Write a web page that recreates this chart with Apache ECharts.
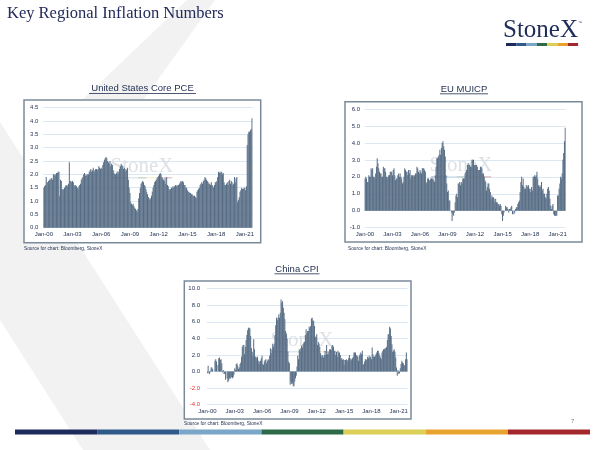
<!DOCTYPE html>
<html>
<head>
<meta charset="utf-8">
<script src="https://cdn.jsdelivr.net/npm/echarts@6/dist/echarts.min.js"></script>
<style>
html, body { margin: 0; padding: 0; background: #fff; }
#main { width: 600px; height: 450px; }
</style>
</head>
<body>
<div id="main"></div>
<script>
// monthly y/y %, every series starts Jan-00
var usCorePce = [
    1.5, 1.55, 1.6, 1.9, 1.7, 1.7, 1.75, 1.8, 1.8, 1.85, 1.85, 1.8,
    2.0, 2.0, 1.95, 2.0, 2.05, 2.05, 2.1, 2.1, 1.2, 1.8, 1.75, 1.45,
    1.4, 1.45, 1.5, 1.55, 1.6, 1.6, 1.55, 1.65, 2.45, 1.75, 1.75, 1.7,
    1.75, 1.7, 1.6, 1.55, 1.6, 1.55, 1.5, 1.45, 1.55, 1.6, 1.65, 1.8,
    1.85, 1.9, 2.0, 2.05, 1.95, 2.0, 1.95, 2.0, 2.0, 2.1, 2.15, 2.2,
    2.1, 2.15, 2.25, 2.1, 2.15, 2.2, 2.2, 2.15, 2.2, 2.3, 2.25, 2.2,
    2.25, 2.2, 2.35, 2.45, 2.55, 2.6, 2.65, 2.6, 2.5, 2.45, 2.4, 2.5,
    2.3, 2.4, 2.35, 2.15, 2.05, 2.0, 2.0, 2.05, 2.1, 2.0, 2.1, 2.2,
    2.3, 2.4, 2.35, 2.3, 2.2, 2.25, 2.1, 2.2, 2.15, 2.25, 1.8, 1.5,
    1.3, 0.95, 0.9, 0.85, 0.9, 0.8, 0.75, 0.7, 0.65, 0.6, 0.7, 1.1,
    1.3, 1.5, 1.65, 1.7, 1.75, 1.7, 1.6, 1.55, 1.45, 1.35, 1.25, 1.15,
    1.1, 1.05, 1.1, 1.2, 1.35, 1.5, 1.6, 1.7, 1.75, 1.8, 1.85, 1.9,
    1.95, 2.0, 2.05, 2.0, 1.9, 1.85, 1.8, 1.75, 1.85, 1.65, 1.9, 1.6,
    1.55, 1.45, 1.4, 1.45, 1.5, 1.5, 1.55, 1.5, 1.55, 1.6, 1.55, 1.6,
    1.55, 1.6, 1.65, 1.7, 1.75, 1.7, 1.75, 1.7, 1.6, 1.6, 1.5, 1.5,
    1.4, 1.35, 1.35, 1.3, 1.3, 1.25, 1.25, 1.2, 1.2, 1.2, 1.15, 1.1,
    1.35, 1.4, 1.45, 1.5, 1.6, 1.65, 1.7, 1.65, 1.75, 1.8, 1.9, 1.85,
    1.8, 1.75, 1.7, 1.65, 1.65, 1.6, 1.7, 1.6, 1.55, 1.5, 1.6, 1.7,
    1.7, 1.75, 1.9, 2.1, 2.05, 2.1, 2.05, 2.1, 2.0, 2.05, 1.7, 1.6,
    1.6, 1.65, 1.7, 1.6, 1.75, 1.8, 1.65, 1.75, 1.7, 1.6, 1.65, 1.9,
    1.7, 1.85, 1.9, 0.95, 1.05, 1.15, 1.35, 1.4, 1.5, 1.45, 1.45, 1.5,
    1.5, 1.4, 1.55, 3.1, 3.5, 3.6, 3.6, 3.65, 3.7, 4.1
];
var euMuicp = [
    1.9, 2.0, 1.9, 1.7, 1.7, 2.1, 2.0, 2.0, 2.5, 2.4, 2.5, 2.0,
    2.0, 1.9, 2.2, 2.6, 3.1, 2.8, 2.5, 2.3, 2.2, 2.2, 2.0, 2.0,
    2.6, 2.5, 2.5, 2.3, 2.0, 1.9, 2.0, 2.1, 2.1, 2.3, 2.3, 2.3,
    2.1, 2.4, 2.5, 2.1, 1.8, 1.9, 1.9, 2.1, 2.2, 2.0, 2.2, 2.0,
    1.9, 1.6, 1.7, 2.0, 2.5, 2.4, 2.3, 2.3, 2.1, 2.4, 2.2, 2.4,
    1.9, 2.1, 2.1, 2.1, 2.0, 2.1, 2.2, 2.2, 2.6, 2.5, 2.3, 2.2,
    2.4, 2.3, 2.2, 2.5, 2.5, 2.5, 2.4, 2.3, 1.7, 1.6, 1.9, 1.9,
    1.8, 1.8, 1.9, 1.9, 1.9, 1.9, 1.8, 1.7, 2.1, 2.6, 3.1, 3.1,
    3.2, 3.3, 3.6, 3.3, 3.7, 4.0, 4.1, 3.8, 3.6, 3.2, 2.1, 1.6,
    1.1, 1.2, 0.6, 0.6, 0.0, -0.1, -0.6, -0.2, -0.3, -0.1, 0.5, 0.9,
    1.0, 0.8, 1.6, 1.6, 1.7, 1.5, 1.7, 1.6, 1.9, 1.9, 1.9, 2.2,
    2.3, 2.4, 2.7, 2.8, 2.7, 2.7, 2.6, 2.6, 3.0, 3.0, 3.0, 2.7,
    2.7, 2.7, 2.7, 2.6, 2.4, 2.4, 2.4, 2.6, 2.6, 2.5, 2.2, 2.2,
    2.0, 1.8, 1.7, 1.2, 1.4, 1.6, 1.6, 1.3, 1.1, 0.7, 0.9, 0.8,
    0.8, 0.7, 0.5, 0.7, 0.5, 0.5, 0.4, 0.4, 0.3, 0.4, 0.3, -0.2,
    -0.6, -0.3, -0.1, 0.0, 0.3, 0.2, 0.2, 0.1, -0.1, 0.1, 0.1, 0.2,
    0.3, -0.2, 0.0, -0.2, -0.1, 0.1, 0.2, 0.2, 0.4, 0.5, 0.6, 1.1,
    1.7, 2.0, 1.5, 1.9, 1.4, 1.3, 1.3, 1.5, 1.5, 1.4, 1.5, 1.3,
    1.3, 1.1, 1.4, 1.2, 2.0, 2.0, 2.1, 2.0, 2.1, 2.3, 1.9, 1.5,
    1.4, 1.5, 1.4, 1.7, 1.2, 1.3, 1.0, 1.0, 0.8, 0.7, 1.0, 1.3,
    1.4, 1.2, 0.7, 0.3, 0.1, 0.3, 0.4, -0.2, -0.3, -0.3, -0.3, -0.3,
    0.9, 0.9, 1.3, 1.6, 2.0, 1.9, 2.2, 3.0, 3.4, 4.1, 4.9
];
var chinaCpi = [
    -0.2, 0.7, -0.2, -0.3, 0.1, 0.5, 0.5, 0.3, 0.0, 0.0, 1.3, 1.5,
    1.2, 0.0, 0.8, 1.6, 1.7, 1.4, 1.5, 1.0, -0.1, 0.2, -0.3, -0.3,
    -1.0, 0.0, -0.8, -1.3, -1.1, -0.8, -0.9, -0.7, -0.7, -0.8, -0.7, -0.4,
    0.4, 0.2, 0.9, 1.0, 0.7, 0.3, 0.5, 0.9, 1.1, 1.8, 3.0, 3.2,
    3.2, 2.1, 3.0, 3.8, 4.4, 5.0, 5.3, 5.3, 5.2, 4.3, 2.8, 2.4,
    1.9, 3.9, 2.7, 1.8, 1.8, 1.6, 1.8, 1.3, 0.9, 1.2, 1.3, 1.6,
    1.9, 0.9, 0.8, 1.2, 1.4, 1.5, 1.0, 1.3, 1.5, 1.4, 1.9, 2.8,
    2.2, 2.7, 3.3, 3.0, 3.4, 4.4, 5.6, 6.5, 6.2, 6.5, 6.9, 6.5,
    7.1, 8.7, 8.3, 8.5, 7.7, 7.1, 6.3, 4.9, 4.6, 4.0, 2.4, 1.2,
    1.0, -1.6, -1.2, -1.5, -1.4, -1.7, -1.8, -1.2, -0.8, -0.5, 0.6, 1.9,
    1.5, 2.7, 2.4, 2.8, 3.1, 2.9, 3.3, 3.5, 3.6, 4.4, 5.1, 4.6,
    4.9, 4.9, 5.4, 5.3, 5.5, 6.4, 6.5, 6.2, 6.1, 5.5, 4.2, 4.1,
    4.5, 3.2, 3.6, 3.4, 3.0, 2.2, 1.8, 2.0, 1.9, 1.7, 2.0, 2.5,
    2.0, 3.2, 2.1, 2.4, 2.1, 2.7, 2.7, 2.6, 3.1, 3.2, 3.0, 2.5,
    2.5, 2.0, 2.4, 1.8, 2.5, 2.3, 2.3, 2.0, 1.6, 1.6, 1.4, 1.5,
    0.8, 1.4, 1.4, 1.5, 1.2, 1.4, 1.6, 2.0, 1.6, 1.3, 1.5, 1.6,
    1.8, 2.3, 2.3, 2.3, 2.0, 1.9, 1.8, 1.3, 1.9, 2.1, 2.3, 2.1,
    2.5, 0.8, 0.9, 1.2, 1.5, 1.5, 1.4, 1.8, 1.6, 1.9, 1.7, 1.8,
    1.5, 2.9, 2.1, 1.8, 1.8, 1.9, 2.1, 2.3, 2.5, 2.5, 2.2, 1.9,
    1.7, 1.5, 2.3, 2.5, 2.7, 2.7, 2.8, 2.8, 3.0, 3.8, 4.5, 4.5,
    5.4, 5.2, 4.3, 3.3, 2.4, 2.5, 2.7, 2.4, 1.7, 0.5, -0.5, 0.2,
    -0.3, -0.2, 0.4, 0.9, 1.3, 1.1, 1.0, 0.8, 0.7, 1.5, 2.3, 1.5
];
var monthNames = ['Jan', 'Feb', 'Mar', 'Apr', 'May', 'Jun', 'Jul', 'Aug', 'Sep', 'Oct', 'Nov', 'Dec'];
var startYear = 2000;
var titles = ['United States Core PCE', 'EU MUICP', 'China CPI'];
var sourceNote = 'Source for chart: Bloomberg, StoneX';
var brandColors = ['#1d2a5c', '#305a8a', '#7aa6c8', '#2d6a48', '#dccf58', '#e8a22f', '#a3282e'];

var navy = '#1f2d4f';
var barColor = '#566c84';

function monthLabels(n) {
    var out = [];
    for (var i = 0; i < n; i++) {
        var yr = startYear + Math.floor(i / 12);
        out.push(monthNames[i % 12] + '-' + String(yr).slice(2));
    }
    return out;
}

// one panel = grid + x/y axis + bars (only the China panel shows negatives in red)
var panels = [
    {data: usCorePce, grid: {left: 43.4, top: 107.7, width: 209, height: 120}, min: 0, max: 4.5, step: 0.5, margin: 5, redNeg: false},
    {data: euMuicp, grid: {left: 364.6, top: 109, width: 201, height: 118.7}, min: -1, max: 6, step: 1, margin: 4.5, redNeg: false},
    {data: chinaCpi, grid: {left: 207, top: 288.7, width: 200.5, height: 116}, min: -4, max: 10, step: 2, margin: 7, redNeg: true}
];

var grids = [], xAxes = [], yAxes = [], series = [];
panels.forEach(function (p, i) {
    grids.push(p.grid);
    xAxes.push({
        type: 'category',
        gridIndex: i,
        data: monthLabels(p.data.length),
        axisLine: {show: false},
        axisTick: {show: false},
        axisLabel: {
            interval: function (idx) { return idx % 36 === 0; },
            fontSize: 6,
            fontFamily: 'Liberation Sans',
            color: navy,
            margin: 4
        }
    });
    yAxes.push({
        type: 'value',
        gridIndex: i,
        min: p.min,
        max: p.max,
        interval: p.step,
        axisLine: {show: false},
        axisTick: {show: false},
        splitLine: {lineStyle: {color: '#dbe8f4', width: 1}},
        axisLabel: {
            fontSize: 6,
            fontFamily: 'Liberation Sans',
            margin: p.margin,
            color: function (v) { return (p.redNeg && v < 0) ? '#e8332e' : navy; },
            formatter: function (v) { return v.toFixed(1); }
        }
    });
    series.push({
        type: 'bar',
        xAxisIndex: i,
        yAxisIndex: i,
        data: p.data,
        barCategoryGap: '5%',
        itemStyle: {color: barColor},
        silent: true,
        animation: false
    });
});

// frames, titles, watermark, brand strips
var graphics = [
    {type: 'polygon', z: -3, shape: {points: [[187, 0], [215, 0], [0, 300], [0, 178]]}, style: {fill: '#f2f2f2'}},
    {type: 'polygon', z: -3, shape: {points: [[0, 122], [210, 450], [83, 450], [0, 320]]}, style: {fill: '#f2f2f2'}},
    {type: 'text', z: 5, style: {x: 7, y: 14, text: 'Key Regional Inflation Numbers', fontSize: 16.5,
        fontFamily: 'Liberation Serif', fill: '#232b5a', verticalAlign: 'middle'}},
    {type: 'text', z: 5, style: {x: 503, y: 30, text: 'StoneX', fontSize: 25,
        fontFamily: 'Liberation Serif', fill: '#1f2d5a', verticalAlign: 'middle'}},
    {type: 'text', z: 5, style: {x: 578, y: 21, text: '\u2122', fontSize: 4, fill: '#1f2d5a'}},
    {type: 'text', z: 5, style: {x: 571, y: 421, text: '7', fontSize: 6, fontFamily: 'Liberation Sans', fill: '#808080', verticalAlign: 'middle'}}
];

var frames = [
    {x: 24, y: 100, w: 236.7, h: 142.7, tx: 142.5, ty: 88.7, ul: 107, sx: 24, sy: 249, wx: 142, wy: 166},
    {x: 345, y: 101.7, w: 237, h: 140.3, tx: 464, ty: 89, ul: 48, sx: 348, sy: 249, wx: 461, wy: 165},
    {x: 184.3, y: 281, w: 226.7, h: 138, tx: 297, ty: 269, ul: 45, sx: 184, sy: 424, wx: 302, wy: 340}
];
frames.forEach(function (f, i) {
    graphics.push({type: 'rect', z: -2, shape: {x: f.x, y: f.y, width: f.w, height: f.h},
        style: {fill: '#ffffff', stroke: '#7b8a9b', lineWidth: 1.5}});
    graphics.push({type: 'text', z: 5, style: {x: f.tx, y: f.ty, text: titles[i], fontSize: 9.5,
        fontFamily: 'Liberation Sans', fill: navy, align: 'center', verticalAlign: 'middle'}});
    graphics.push({type: 'line', z: 5, shape: {x1: f.tx - f.ul / 2, y1: f.ty + 4.8, x2: f.tx + f.ul / 2, y2: f.ty + 4.8},
        style: {stroke: navy, lineWidth: 0.8}});
    graphics.push({type: 'text', z: 5, style: {x: f.sx, y: f.sy, text: sourceNote, fontSize: 4.8,
        fontFamily: 'Liberation Sans', fill: navy, verticalAlign: 'middle'}});
    graphics.push({type: 'text', z: 1, style: {x: f.wx, y: f.wy, text: 'StoneX', fontSize: 21,
        fontFamily: 'Liberation Serif', fill: '#d5d9de', opacity: 0.8, align: 'center', verticalAlign: 'middle'}});
    brandColors.forEach(function (c, k) {
        graphics.push({type: 'rect', z: 1, shape: {x: f.wx - 30 + k * 8.6, y: f.wy + 11, width: 8.6, height: 1.5},
            style: {fill: c, opacity: 0.25}});
    });
});

brandColors.forEach(function (c, k) {
    graphics.push({type: 'rect', z: 5, shape: {x: 506 + k * 10.3, y: 43, width: 10.3, height: 3}, style: {fill: c}});
    graphics.push({type: 'rect', z: 5, shape: {x: 15 + k * 82.15, y: 429.5, width: 82.15, height: 5}, style: {fill: c}});
});

var option = {
    backgroundColor: '#ffffff',
    animation: false,
    grid: grids,
    xAxis: xAxes,
    yAxis: yAxes,
    series: series,
    graphic: {elements: graphics}
};

var chart = echarts.init(document.getElementById('main'));
chart.setOption(option);
</script>
</body>
</html>
